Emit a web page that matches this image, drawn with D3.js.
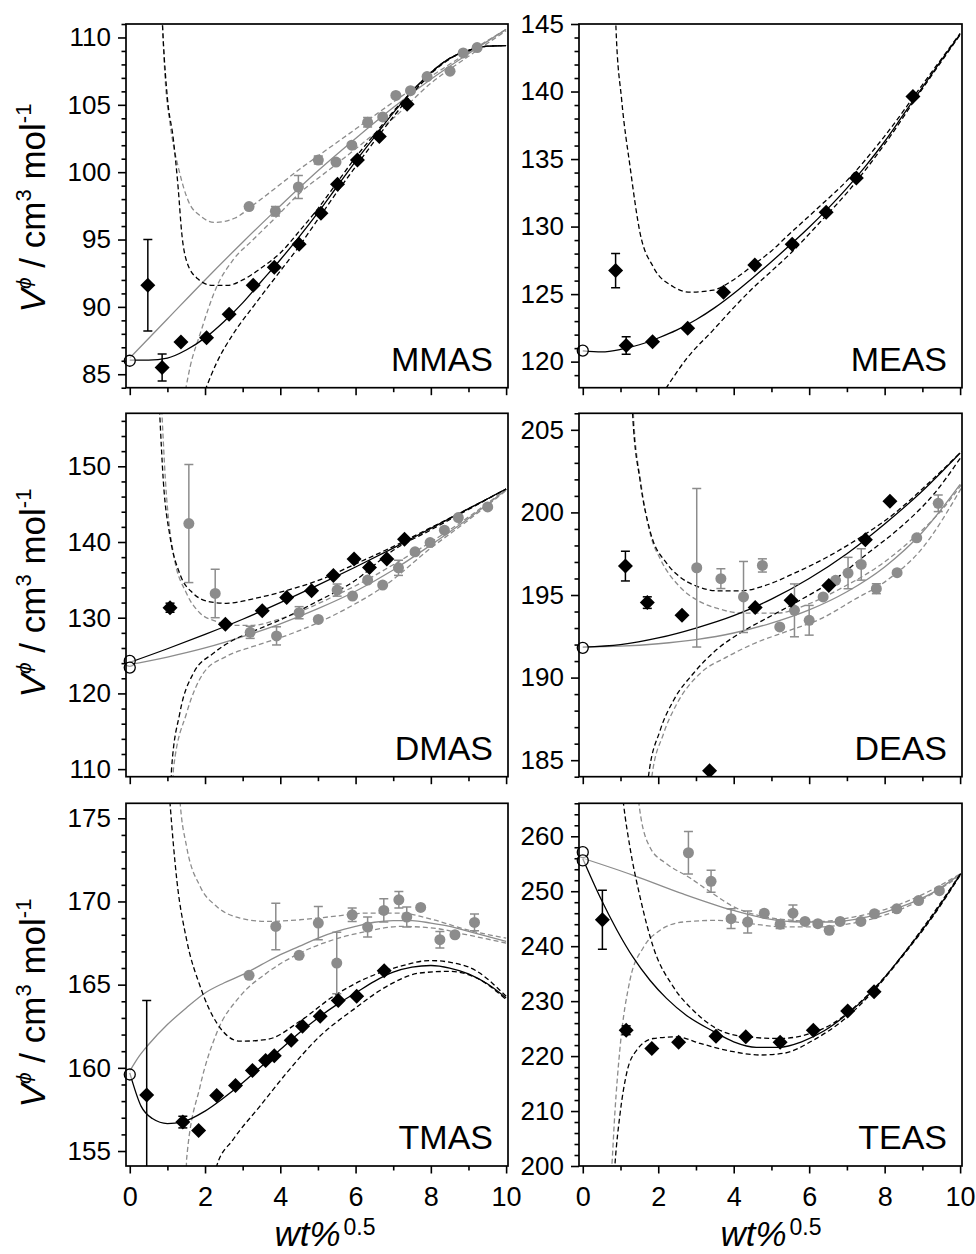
<!DOCTYPE html>
<html>
<head>
<meta charset="utf-8">
<script src="https://cdn.jsdelivr.net/npm/d3@7"></script>
<style>
  body { margin: 0; background: #fff; }
  text { font-family: Arial, "Liberation Sans", sans-serif; }
</style>
</head>
<body>
<div id="chart"></div>
<script>
// ---- data: [x, y, error] for points, [x, y] for curves ----
const xTicks = [0, 2, 4, 6, 8, 10];
const xMinor = [1, 3, 5, 7, 9];

// MMAS
const mmasYTicks = [85, 90, 95, 100, 105, 110];
const mmasDiamonds = [[0.48,91.6,3.4],[0.86,85.5,1.0],[1.36,87.4,0],[2.04,87.7,0],[2.64,89.45,0],[3.28,91.6,0],[3.84,92.95,0],[4.5,94.65,0],[5.08,96.95,0],[5.52,99.1,0],[6.05,100.9,0],[6.63,102.65,0],[7.37,105.05,0]];
const mmasCircles = [[3.17,97.45,0],[3.87,97.1,0.35],[4.48,98.9,0.85],[5.01,100.9,0.3],[5.48,100.75,0],[5.9,102.0,0],[6.32,103.7,0.35],[6.72,104.1,0],[7.07,105.7,0],[7.46,106.05,0],[7.9,107.1,0],[8.51,107.5,0],[8.86,108.85,0],[9.23,109.25,0]];
const mmasOpen = [86.0];
const mmasBlackFit = [[0,86.05],[0.5,86.05],[1,86.2],[1.5,86.8],[2,87.7],[2.5,88.9],[3,90.3],[3.5,91.9],[4,93.5],[4.5,95.2],[5,97.0],[5.5,98.9],[6,100.8],[6.5,102.6],[7,104.4],[7.5,106.0],[8,107.4],[8.5,108.45],[9,109.05],[9.5,109.35],[10,109.4]];
const mmasBlackUp = [[0.86,111.5],[0.89,109.8],[1.0,105.5],[1.16,102.4],[1.29,98.7],[1.38,95.5],[1.51,93.4],[1.8,92.1],[2.2,91.6],[2.6,91.6],[3.0,92.0],[3.5,92.9],[4.0,94.0],[4.5,95.6],[5,97.3],[5.5,99.2],[6,101.1],[6.5,102.8],[7,104.5],[7.5,106.0],[8,107.4],[8.5,108.45],[9,109.05],[9.5,109.35],[10,109.4]];
const mmasBlackLo = [[2.0,83.8],[2.3,85.8],[2.75,88.0],[3.3,90.1],[3.9,92.3],[4.5,94.5],[5.0,96.5],[5.5,98.5],[6.0,100.4],[6.5,102.3],[7,104.1],[7.5,105.8],[8,107.3],[8.5,108.4],[9,109.0],[9.5,109.35],[10,109.4]];
const mmasGrayFit = [[0,86.2],[1,89.1],[2,92.0],[3,94.8],[4,97.5],[5,100.1],[6,102.5],[7,104.8],[8,106.9],[9,108.8],[10,110.6]];
const mmasGrayUp = [[0.86,111.5],[0.95,106.5],[1.07,103.6],[1.33,99.9],[1.55,97.9],[1.9,96.7],[2.26,96.27],[2.8,96.6],[3.3,97.6],[4,99.1],[4.5,100.2],[5,101.2],[5.5,102.2],[6,103.2],[6.5,104.2],[7,105.2],[8,107.1],[9,108.9],[10,110.6]];
const mmasGrayLo = [[1.48,83.8],[1.6,85.5],[1.87,88.0],[2.31,91.5],[2.75,93.5],[3.28,95.0],[3.9,96.7],[4.5,98.4],[5.4,100.4],[6.3,102.4],[7,104.0],[8,106.6],[9,108.6],[10,110.5]];

// MEAS
const measYTicks = [120, 125, 130, 135, 140, 145];
const measDiamonds = [[0.87,126.74,1.26],[1.15,121.19,0.65],[1.85,121.48,0],[2.78,122.47,0],[3.73,125.14,0],[4.56,127.16,0],[5.55,128.7,0],[6.45,131.07,0],[7.25,133.59,0],[8.75,139.64,0]];
const measOpen = [120.81];
const measBlackFit = [[0,120.8],[0.5,120.72],[1,120.9],[1.5,121.25],[2,121.75],[2.5,122.35],[3,123.1],[3.5,124.0],[4,125.05],[4.5,126.2],[5,127.4],[5.5,128.65],[6,129.95],[6.5,131.35],[7,132.85],[7.5,134.5],[8,136.3],[8.5,138.3],[9,140.3],[9.5,142.3],[10,144.25]];
const measBlackUp = [[0.87,145.5],[0.88,144.7],[1.03,139.4],[1.25,134.5],[1.52,129.5],[1.87,127.0],[2.4,125.55],[2.85,125.14],[3.46,125.3],[3.99,126.05],[4.54,127.2],[5.0,128.2],[5.4,129.25],[6.28,131.5],[7,133.4],[8,136.7],[9,140.5],[10,144.3]];
const measBlackLo = [[2.2,118.0],[2.76,120.25],[3.46,122.35],[4.0,124.0],[4.51,125.45],[5.0,126.7],[5.5,128.0],[6.28,130.3],[7,132.5],[8,136.1],[9,140.2],[10,144.2]];

// DMAS
const dmasYTicks = [110, 120, 130, 140, 150];
const dmasDiamonds = [[1.07,131.32,0.6],[2.54,129.12,0],[3.52,130.92,0],[4.17,132.68,0],[4.83,133.56,0],[5.41,135.58,0],[5.96,137.74,0],[6.37,136.64,0],[6.83,137.74,0],[7.3,140.37,0]];
const dmasCircles = [[1.57,142.44,7.8],[2.27,133.2,3.2],[3.2,128.07,0.8],[3.9,127.6,1.2],[4.5,130.66,0.8],[5.01,129.78,0],[5.51,133.65,0.8],[5.92,132.86,0],[6.32,134.97,0],[6.72,134.31,0],[7.14,136.59,1.0],[7.58,138.7,0],[7.98,139.93,0],[8.36,141.56,0],[8.73,143.23,0],[9.51,144.64,0]];
const dmasOpen = [124.29, 123.41];
const dmasBlackFit = [[0,124.1],[1,125.9],[2,127.8],[3,129.8],[4,132.0],[5,134.3],[6,136.7],[7,139.2],[8,141.8],[9,144.4],[10,147.0]];
const dmasBlackUp = [[0.79,157.5],[0.8,156.5],[0.89,148.2],[1.07,140.7],[1.33,135.8],[1.69,133.2],[2.13,132.1],[2.57,131.9],[3.28,132.5],[4.17,133.6],[5.05,135.0],[6,137.1],[7,139.4],[8,141.9],[9,144.4],[10,147.0]];
const dmasBlackLo = [[1.1,108.5],[1.11,110],[1.33,117.4],[1.69,122.66],[2.22,125.3],[2.75,127.05],[3.28,128.2],[4.08,129.9],[4.96,132.1],[5.94,134.75],[7,138.9],[8,141.6],[9,144.3],[10,147.0]];
const dmasGrayFit = [[0,123.8],[1,124.8],[2,126.0],[3,127.5],[4,129.2],[5,131.2],[6,133.5],[7,136.3],[8,139.6],[9,143.1],[10,146.9]];
const dmasGrayUp = [[0.85,157.5],[0.95,148],[1.16,138.5],[1.51,133.2],[1.87,130.6],[2.31,129.5],[2.75,129.0],[3.28,129.0],[3.9,129.7],[4.52,130.8],[5.41,132.8],[6.3,135.0],[7,137.0],[8,140.0],[9,143.3],[10,147.0]];
const dmasGrayLo = [[1.15,108.5],[1.16,110],[1.51,117.4],[1.96,122.7],[2.57,124.9],[3.28,126.2],[4.08,127.5],[4.96,129.25],[5.85,131.45],[6.74,134.1],[8,139.2],[9,142.9],[10,146.8]];

// DEAS
const deasYTicks = [185, 190, 195, 200, 205];
const deasDiamonds = [[1.13,196.75,0.9],[1.71,194.54,0.35],[2.63,193.77,0],[3.36,184.36,0],[4.57,194.24,0],[5.52,194.68,0],[6.52,195.58,0],[7.49,198.34,0],[8.14,200.67,0]];
const deasCircles = [[3.02,196.65,4.8],[3.66,195.99,0.6],[4.26,194.88,2.15],[4.76,196.79,0.4],[5.22,193.07,0],[5.61,194.07,1.6],[6.0,193.47,0.9],[6.37,194.88,0],[6.7,195.89,0],[7.03,196.33,0.95],[7.38,196.85,0.95],[7.78,195.38,0.3],[8.33,196.35,0],[8.85,198.46,0],[9.42,200.55,0.5]];
const deasOpen = [191.8];
const deasBlackFit = [[0,191.85],[1,192.0],[2,192.4],[3,193.0],[4,193.75],[5,194.75],[6,196.0],[7,197.5],[8,199.3],[9,201.3],[10,203.6]];
const deasBlackUp = [[1.31,206.5],[1.32,206],[1.52,201.9],[1.78,198.9],[2.23,196.9],[2.57,196.1],[3.0,195.55],[3.6,195.25],[4.2,195.25],[4.8,195.55],[5.59,196.3],[6.48,197.3],[7.36,198.5],[8.24,199.9],[9.13,201.7],[10.04,203.7]];
const deasBlackLo = [[1.73,183.5],[1.74,184],[2.05,186.8],[2.4,188.6],[2.93,190.25],[3.55,191.7],[4.17,192.7],[4.88,193.6],[5.77,194.7],[6.65,195.9],[7.54,197.5],[8.42,199.1],[9.3,201.1],[10.04,203.4]];
const deasGrayFit = [[0,191.85],[1,191.9],[2,192.05],[3,192.3],[4,192.7],[5,193.3],[6,194.1],[7,195.2],[8,196.7],[9,198.8],[10,201.7]];
const deasGrayUp = [[1.33,206.5],[1.34,206],[1.54,201.8],[1.8,198.6],[2.05,197.2],[2.57,195.5],[3.1,194.6],[3.55,194.2],[4.26,193.9],[5.15,193.9],[6.03,194.5],[6.92,195.5],[7.81,196.7],[8.69,198.3],[9.57,200.3],[10.04,201.7]];
const deasGrayLo = [[1.82,183.5],[1.83,184],[2.14,186.6],[2.49,188.4],[3.11,190.25],[3.82,191.25],[4.53,192.05],[5.41,192.8],[6.3,193.55],[7.18,194.7],[8.07,195.9],[8.95,197.7],[10.04,201.5]];

// TMAS
const tmasYTicks = [155, 160, 165, 170, 175];
const tmasDiamonds = [[0.45,158.36,5.68],[1.41,156.74,0.35],[1.83,156.24,0],[2.31,158.34,0],[2.81,158.94,0],[3.26,159.84,0],[3.61,160.44,0],[3.84,160.72,0],[4.29,161.66,0],[4.59,162.5,0],[5.06,163.1,0],[5.54,164.04,0],[6.03,164.3,0],[6.76,165.84,0]];
const tmasCircles = [[3.17,165.56,0],[3.88,168.5,1.4],[4.5,166.76,0],[5.01,168.7,1.0],[5.5,166.3,1.85],[5.91,169.2,0.4],[6.32,168.46,0.6],[6.75,169.46,0.7],[7.15,170.1,0.5],[7.36,169.06,0.6],[7.73,169.64,0],[8.24,167.7,0.5],[8.64,168.0,0],[9.16,168.74,0.5]];
const tmasOpen = [159.6];
const tmasBlackFit = [[0,159.7],[0.3,157.7],[0.6,156.95],[1.0,156.65],[1.4,156.75],[2.0,157.4],[2.5,158.2],[3.0,159.1],[3.5,160.1],[4.0,161.1],[4.5,162.1],[5,163.0],[5.5,163.8],[6,164.5],[6.5,165.2],[7,165.75],[7.5,166.05],[8,166.15],[8.5,166.0],[9,165.65],[9.5,165.05],[10,164.2]];
const tmasBlackUp = [[1.05,176.5],[1.07,175.9],[1.25,171.3],[1.51,167.7],[1.87,164.9],[2.31,162.7],[2.93,161.6],[3.64,161.7],[4.52,162.8],[5.41,164.3],[6.3,165.4],[7.18,166.1],[7.98,166.45],[8.95,166.1],[10,164.3]];
const tmasBlackLo = [[2.28,153.5],[2.31,154.1],[2.75,155.7],[3.46,157.7],[4.17,159.7],[5.05,161.9],[5.94,163.5],[6.83,164.9],[7.71,165.7],[8.5,165.8],[9.3,165.3],[10,164.1]];
const tmasGrayFit = [[0,159.8],[0.25,160.7],[0.5,161.4],[1,162.6],[1.5,163.6],[2,164.5],[2.5,165.1],[3,165.6],[3.5,166.2],[4,166.8],[4.5,167.3],[5,167.8],[5.5,168.2],[6,168.5],[6.5,168.75],[7,168.85],[7.5,168.85],[8,168.7],[8.5,168.5],[9,168.2],[9.5,167.9],[10,167.6]];
const tmasGrayUp = [[1.32,176.5],[1.34,175.9],[1.51,173.3],[1.87,170.9],[2.31,169.7],[2.93,169.0],[3.64,168.8],[4.52,168.9],[5.41,169.1],[6.3,169.3],[7.18,169.3],[8.07,168.9],[8.95,168.3],[10,167.8]];
const tmasGrayLo = [[1.5,153.5],[1.51,154.5],[1.87,158.9],[2.31,162.1],[2.93,164.3],[3.64,165.7],[4.52,166.9],[5.41,167.7],[6.3,168.2],[7.18,168.5],[8.07,168.4],[8.95,168.0],[10,167.5]];

// TEAS
const teasYTicks = [200, 210, 220, 230, 240, 250, 260];
const teasDiamonds = [[0.52,244.8,5.36],[1.15,224.7,0.8],[1.83,221.4,0],[2.54,222.5,0],[3.53,223.6,0],[4.32,223.5,0],[5.23,222.5,0],[6.11,224.7,0],[7.02,228.2,0],[7.72,231.7,0]];
const teasCircles = [[2.8,257.0,3.85],[3.4,251.8,2.0],[3.93,245.0,1.8],[4.37,244.4,2.0],[4.81,246.0,0],[5.23,244.0,0.8],[5.57,246.0,1.5],[5.89,244.5,0],[6.23,244.1,0],[6.53,242.9,0],[6.82,244.5,0],[7.37,244.5,0],[7.73,245.9,0],[8.32,246.8,0],[8.9,248.3,0],[9.45,250.1,0]];
const teasOpen = [257.1, 255.6];
const teasBlackFit = [[0,255.9],[0.46,248.9],[0.9,243.0],[1.34,237.9],[1.78,233.8],[2.22,230.5],[2.75,227.4],[3.46,224.5],[4.0,222.6],[4.6,221.6],[5.2,221.6],[5.8,222.6],[6.4,224.6],[7.0,227.6],[7.7,232.0],[8.41,237.8],[9.29,245.7],[10.02,253.2]];
const teasBlackUp = [[1.07,266.5],[1.08,265.9],[1.25,258.0],[1.52,248.9],[1.87,239.8],[2.4,232.6],[2.93,228.3],[3.55,225.0],[4.34,223.5],[5.23,223.2],[6.02,224.1],[6.6,225.8],[7.3,229.5],[8,234.4],[9,243.2],[10.02,253.3]];
const teasBlackLo = [[0.84,199],[0.85,200],[0.99,209.6],[1.16,216.8],[1.43,221.1],[1.87,223.2],[2.49,223.5],[3.11,222.3],[3.99,220.8],[4.7,220.2],[5.32,220.5],[6.11,222.9],[7.0,227.1],[7.7,231.8],[8.5,238.4],[9.3,245.6],[10.02,253.1]];
const teasGrayFit = [[0,256.0],[1.34,252.9],[2.66,249.5],[3.99,246.5],[4.87,245.0],[5.76,244.4],[6.64,244.4],[7.52,245.3],[8.41,247.1],[9.29,249.8],[10.02,253.2]];
const teasGrayUp = [[1.48,266.5],[1.5,265.3],[1.78,258.0],[2.22,255.0],[2.8,252.6],[3.46,249.5],[3.99,247.2],[4.7,245.5],[5.4,244.8],[6.29,244.5],[7.17,245.3],[8.06,246.8],[8.94,249.2],[10.02,253.2]];
const teasGrayLo = [[0.76,199],[0.77,200],[0.85,209.6],[0.99,221.7],[1.25,233.8],[1.61,239.8],[2.05,242.9],[2.66,244.4],[3.55,244.7],[4.43,244.1],[5.32,243.5],[6.2,243.5],[7.08,244.1],[7.97,245.6],[8.85,248.0],[10.02,252.9]];

// ---- layout ----
const W = 976, H = 1254;
const colX = [[126, 508], [579, 962]];
const rowY = [[24, 387.7], [413.3, 776.7], [803.3, 1166]];
const titleY = [208, 593, 1003];
const GRAY = "#8c8c8c";

const panels = [
  { name: "MMAS", col: 0, row: 0, yDom: [84, 111], yTicks: mmasYTicks, yStep: 1,
    diamonds: mmasDiamonds, circles: mmasCircles, open: mmasOpen,
    black: [mmasBlackFit, mmasBlackUp, mmasBlackLo], gray: [mmasGrayFit, mmasGrayUp, mmasGrayLo] },
  { name: "MEAS", col: 1, row: 0, yDom: [118.07, 145], yTicks: measYTicks, yStep: 1,
    diamonds: measDiamonds, circles: [], open: measOpen,
    black: [measBlackFit, measBlackUp, measBlackLo], gray: null },
  { name: "DMAS", col: 0, row: 1, yDom: [109, 157], yTicks: dmasYTicks, yStep: 2,
    diamonds: dmasDiamonds, circles: dmasCircles, open: dmasOpen,
    black: [dmasBlackFit, dmasBlackUp, dmasBlackLo], gray: [dmasGrayFit, dmasGrayUp, dmasGrayLo] },
  { name: "DEAS", col: 1, row: 1, yDom: [184, 206], yTicks: deasYTicks, yStep: 1,
    diamonds: deasDiamonds, circles: deasCircles, open: deasOpen,
    black: [deasBlackFit, deasBlackUp, deasBlackLo], gray: [deasGrayFit, deasGrayUp, deasGrayLo] },
  { name: "TMAS", col: 0, row: 2, yDom: [154.1, 175.9], yTicks: tmasYTicks, yStep: 1,
    diamonds: tmasDiamonds, circles: tmasCircles, open: tmasOpen,
    black: [tmasBlackFit, tmasBlackUp, tmasBlackLo], gray: [tmasGrayFit, tmasGrayUp, tmasGrayLo] },
  { name: "TEAS", col: 1, row: 2, yDom: [200, 266], yTicks: teasYTicks, yStep: 2,
    diamonds: teasDiamonds, circles: teasCircles, open: teasOpen,
    black: [teasBlackFit, teasBlackUp, teasBlackLo], gray: [teasGrayFit, teasGrayUp, teasGrayLo] }
];

const svg = d3.select("#chart").append("svg")
    .attr("width", W).attr("height", H)
    .style("display", "block");

const diamondPath = "M0,-7.5L7.5,0L0,7.5L-7.5,0Z";

panels.forEach((p, i) => {
    const [x0, x1] = colX[p.col];
    const [yTop, yBot] = rowY[p.row];
    const x = d3.scaleLinear().domain([-0.1, 10.05]).range([x0, x1]);
    const y = d3.scaleLinear().domain(p.yDom).range([yBot, yTop]);

    const clipId = "clip" + i;
    svg.append("clipPath").attr("id", clipId)
        .append("rect").attr("x", x0).attr("y", yTop)
        .attr("width", x1 - x0).attr("height", yBot - yTop);

    const g = svg.append("g");
    const plot = g.append("g").attr("clip-path", `url(#${clipId})`);

    const line = d3.line()
        .x(d => x(d[0])).y(d => y(d[1]))
        .curve(d3.curveMonotoneX);

    // fitted curves + confidence bands
    const drawSet = (set, color) => {
        if (!set) return;
        plot.append("path").datum(set[1]).attr("d", line)
            .attr("fill", "none").attr("stroke", color).attr("stroke-width", 1.3)
            .attr("stroke-dasharray", "5,3");
        plot.append("path").datum(set[2]).attr("d", line)
            .attr("fill", "none").attr("stroke", color).attr("stroke-width", 1.3)
            .attr("stroke-dasharray", "5,3");
        plot.append("path").datum(set[0]).attr("d", line)
            .attr("fill", "none").attr("stroke", color).attr("stroke-width", 1.3);
    };
    drawSet(p.gray, GRAY);
    drawSet(p.black, "#000");

    // error bars
    const errBars = (pts, color) => {
        const eb = plot.append("g").attr("stroke", color).attr("stroke-width", 1.5);
        pts.filter(d => d[2] > 0).forEach(d => {
            const cx = x(d[0]), yu = y(d[1] + d[2]), yl = y(d[1] - d[2]);
            eb.append("line").attr("x1", cx).attr("x2", cx).attr("y1", yu).attr("y2", yl);
            eb.append("line").attr("x1", cx - 4.5).attr("x2", cx + 4.5).attr("y1", yu).attr("y2", yu);
            eb.append("line").attr("x1", cx - 4.5).attr("x2", cx + 4.5).attr("y1", yl).attr("y2", yl);
        });
    };
    errBars(p.circles, GRAY);
    errBars(p.diamonds, "#000");

    plot.selectAll(".circ").data(p.circles).enter().append("circle")
        .attr("cx", d => x(d[0])).attr("cy", d => y(d[1]))
        .attr("r", 5.5).attr("fill", GRAY);

    plot.selectAll(".dia").data(p.diamonds).enter().append("path")
        .attr("d", diamondPath)
        .attr("transform", d => `translate(${x(d[0])},${y(d[1])})`)
        .attr("fill", "#000");

    g.selectAll(".open").data(p.open).enter().append("circle")
        .attr("cx", x(0)).attr("cy", d => y(d))
        .attr("r", 5.5).attr("fill", "#fff").attr("fill-opacity", 0.6)
        .attr("stroke", "#000").attr("stroke-width", 1.3);

    // axes
    const yMinor = d3.range(Math.ceil(p.yDom[0] / p.yStep) * p.yStep, p.yDom[1] + 1e-9, p.yStep)
        .filter(v => !p.yTicks.includes(v));

    const yAx = g.append("g").attr("transform", `translate(${x0},0)`)
        .call(d3.axisLeft(y).tickValues(p.yTicks).tickSize(8).tickPadding(7).tickSizeOuter(0));
    yAx.select(".domain").remove();
    yAx.selectAll("line").attr("stroke-width", 1.6);
    yAx.selectAll("text").style("font-size", "26px").attr("fill", "#000");

    const yAxMinor = g.append("g").attr("transform", `translate(${x0},0)`)
        .call(d3.axisLeft(y).tickValues(yMinor).tickSize(4.5).tickFormat(""));
    yAxMinor.select(".domain").remove();
    yAxMinor.selectAll("line").attr("stroke-width", 1.6);

    const xAx = g.append("g").attr("transform", `translate(0,${yBot})`)
        .call(d3.axisBottom(x).tickValues(xTicks).tickSize(7.5).tickPadding(13).tickSizeOuter(0)
            .tickFormat(p.row === 2 ? d3.format("d") : ""));
    xAx.select(".domain").remove();
    xAx.selectAll("line").attr("stroke-width", 1.6);
    xAx.selectAll("text").style("font-size", "27px").attr("fill", "#000");

    const xAxMinor = g.append("g").attr("transform", `translate(0,${yBot})`)
        .call(d3.axisBottom(x).tickValues(xMinor).tickSize(4.5).tickFormat(""));
    xAxMinor.select(".domain").remove();
    xAxMinor.selectAll("line").attr("stroke-width", 1.6);

    g.append("rect").attr("x", x0).attr("y", yTop)
        .attr("width", x1 - x0).attr("height", yBot - yTop)
        .attr("fill", "none").attr("stroke", "#000").attr("stroke-width", 1.7);

    g.append("text").attr("x", x1 - 15).attr("y", yBot - 17)
        .attr("text-anchor", "end").style("font-size", "34px")
        .text(p.name);
});

// y axis titles
titleY.forEach(cy => {
    const t = svg.append("text")
        .attr("transform", `translate(45,${cy}) rotate(-90)`)
        .attr("text-anchor", "middle")
        .style("font-size", "35px");
    t.append("tspan").style("font-style", "italic").text("V");
    t.append("tspan").attr("dy", -14).style("font-size", "21px").style("font-style", "italic").text("ϕ");
    t.append("tspan").attr("dy", 14).text(" / cm");
    t.append("tspan").attr("dy", -14).style("font-size", "22px").text("3");
    t.append("tspan").attr("dy", 14).text(" mol");
    t.append("tspan").attr("dy", -14).style("font-size", "22px").text("-1");
});

// x axis titles
[325, 771].forEach(cx => {
    const t = svg.append("text").attr("x", cx).attr("y", 1246)
        .attr("text-anchor", "middle").style("font-size", "35px");
    t.append("tspan").style("font-style", "italic").text("wt%");
    t.append("tspan").attr("dx", 3).attr("dy", -11).style("font-size", "23px").text("0.5");
});
</script>
</body>
</html>
